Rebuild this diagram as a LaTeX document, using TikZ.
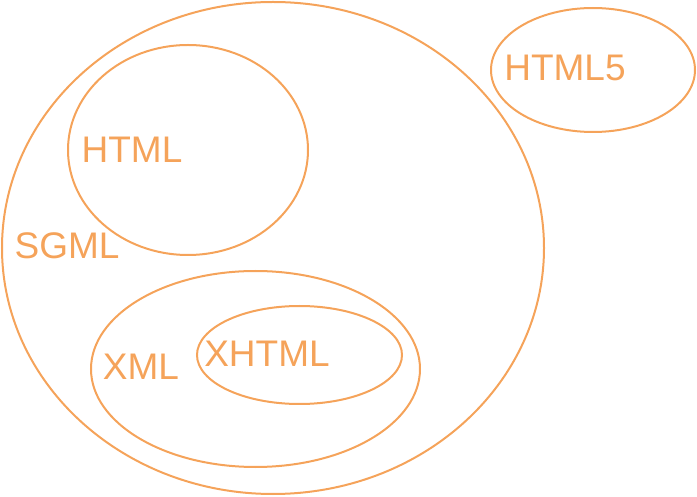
\documentclass[tikz,border=0pt]{standalone}
\usepackage{fontspec}
\setmainfont{Liberation Sans}
\definecolor{org}{HTML}{F5A35A}
\begin{document}
\begin{tikzpicture}[x=1pt,y=1pt,
  blob/.style={draw=org,line width=2pt},
  lbl/.style={text=org,font=\fontsize{37}{37}\selectfont,inner sep=0pt}]
\useasboundingbox (0,0) rectangle (697,496);
\draw[blob] (273,248) ellipse [x radius=271, y radius=246];
\draw[blob] (188,346) ellipse [x radius=120, y radius=105];
\draw[blob] (255.5,127) ellipse [x radius=164.5, y radius=98];
\draw[blob] (299.5,141) ellipse [x radius=102.5, y radius=49];
\draw[blob] (593,426) ellipse [x radius=102, y radius=62];
\node[lbl] (html) at (132,346) {HTML};
\node[lbl] (sgml) at (67,250) {SGML};
\node[lbl] (xml) at (141,129) {XML};
\node[lbl] (xhtml) at (267,142) {XHTML};
\node[lbl] (html5) at (565,428) {HTML5};
\end{tikzpicture}
\end{document}
